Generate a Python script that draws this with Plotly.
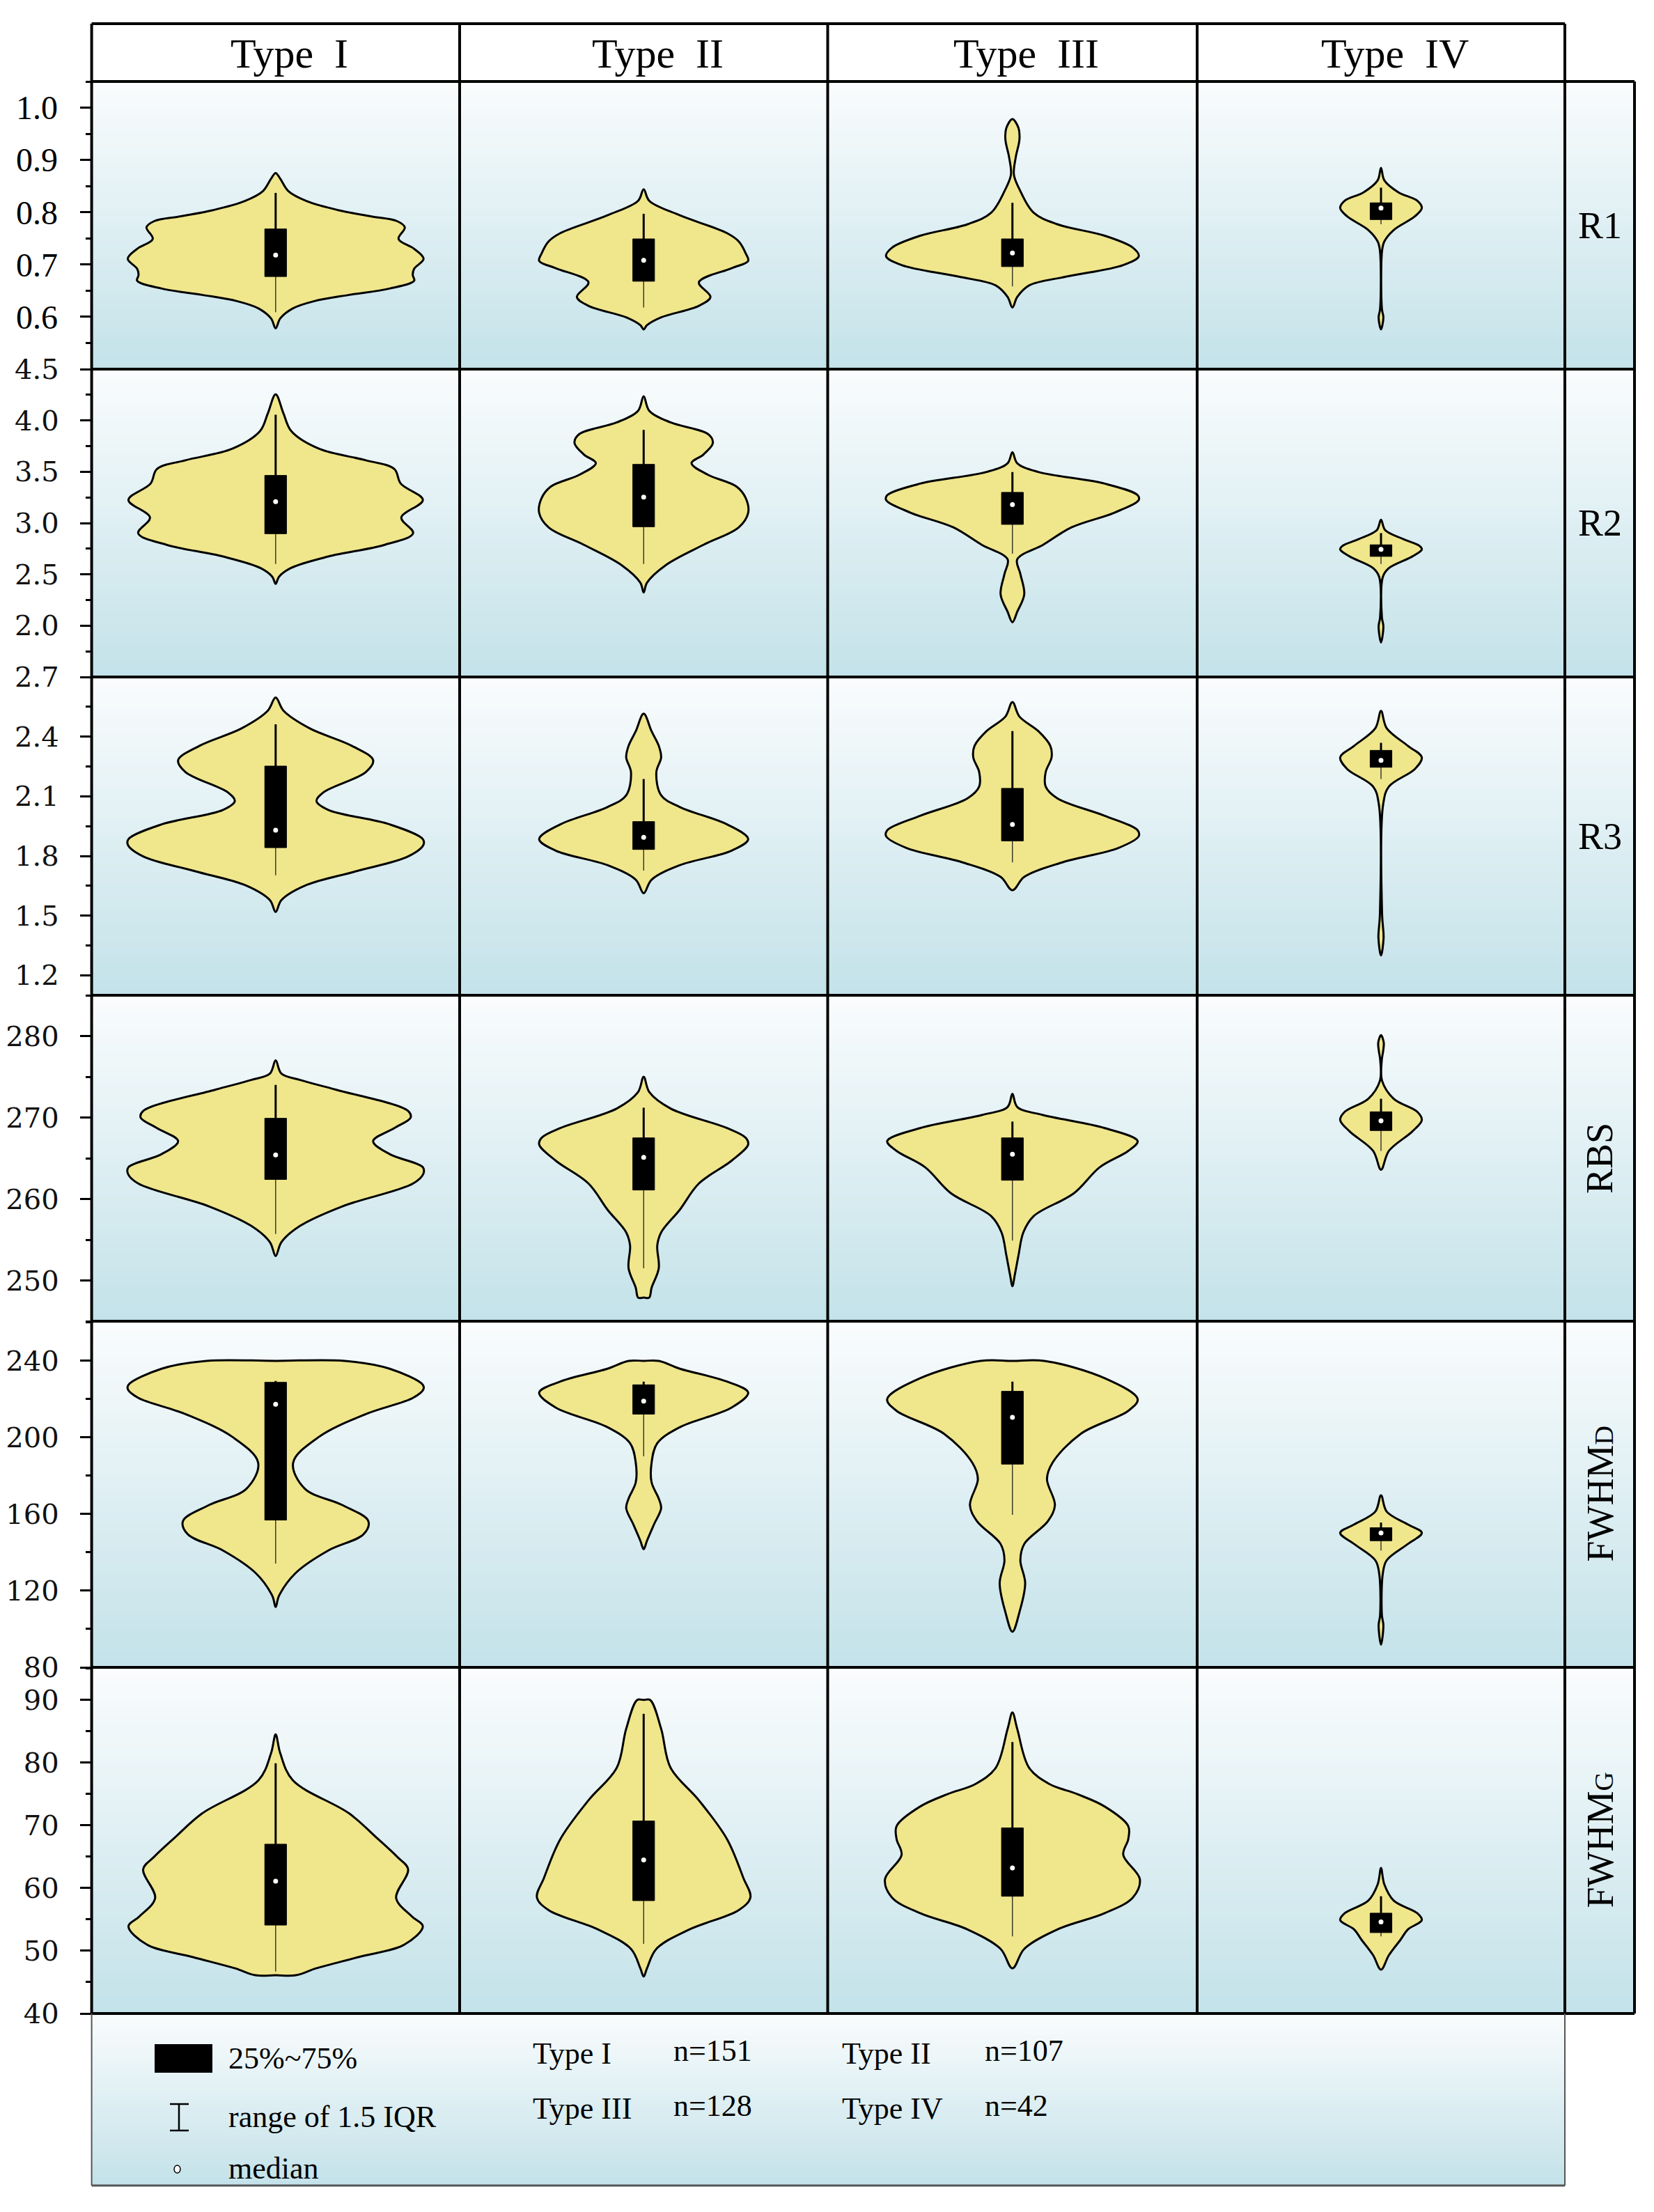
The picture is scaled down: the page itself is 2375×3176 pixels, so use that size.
import plotly.graph_objects as go

# ---- data ----
TYPES = ["Type  I", "Type  II", "Type  III", "Type  IV"]
LEGEND_TYPES = ["Type I", "Type II", "Type III", "Type IV"]
N_SAMPLES = [151, 107, 128, 42]
PARAMS = ["R1", "R2", "R3", "RBS",
          "FWHM<span style='font-size:38px'>D</span>",
          "FWHM<span style='font-size:38px'>G</span>"]

Y_RANGES = [[0.5, 1.05], [1.5, 4.5], [1.1, 2.7], [245, 285], [80, 260.7], [40, 95.2]]
TICK_LABELS = [
    ["0.6", "0.7", "0.8", "0.9", "1.0"],
    ["2.0", "2.5", "3.0", "3.5", "4.0", "4.5"],
    ["1.2", "1.5", "1.8", "2.1", "2.4", "2.7"],
    ["250", "260", "270", "280"],
    ["80", "120", "160", "200", "240"],
    ["40", "50", "60", "70", "80", "90"],
]

# violin outlines: heights (top -> bottom) and half widths (fraction of half column)
R1_Y = [
    [0.875, 0.864, 0.840, 0.821, 0.804, 0.792, 0.783, 0.771, 0.749, 0.730, 0.711, 0.692, 0.680, 0.669, 0.654, 0.642, 0.630, 0.616, 0.597, 0.578],
    [0.844, 0.822, 0.794, 0.760, 0.744, 0.721, 0.707, 0.693, 0.666, 0.638, 0.621, 0.599, 0.584, 0.576],
    [0.978, 0.961, 0.939, 0.905, 0.872, 0.844, 0.799, 0.777, 0.755, 0.732, 0.716, 0.699, 0.677, 0.660, 0.638, 0.618],
    [0.885, 0.861, 0.838, 0.822, 0.808, 0.792, 0.766, 0.744, 0.727, 0.615, 0.599, 0.576],
]
R1_W = [
    [0, .025, .07, .17, .34, .52, .66, .702, .668, .753, .804, .753, .745, .753, .618, .40, .21, .093, .025, 0],
    [0, .03, .197, .453, .517, .555, .568, .478, .30, .363, .30, .095, .018, 0],
    [0, .033, .038, .018, .008, .038, .115, .243, .50, .653, .684, .60, .294, .09, .026, 0],
    [0, .018, .095, .197, .222, .184, .069, .018, .006, .005, .013, 0],
]
R1_BOX = [[0.609, 0.677, 0.718, 0.768, 0.837], [0.618, 0.668, 0.708, 0.749, 0.797],
          [0.658, 0.696, 0.722, 0.749, 0.818], [0.777, 0.786, 0.808, 0.818, 0.847]]

R2_Y = [
    [4.254, 4.066, 3.896, 3.725, 3.612, 3.527, 3.384, 3.225, 3.054, 2.901, 2.788, 2.674, 2.561, 2.476, 2.407],
    [4.236, 4.095, 3.981, 3.867, 3.782, 3.668, 3.583, 3.470, 3.356, 3.242, 3.100, 2.958, 2.788, 2.590, 2.419, 2.323],
    [3.691, 3.583, 3.498, 3.384, 3.271, 3.225, 3.100, 2.958, 2.788, 2.646, 2.504, 2.305, 2.135, 2.033],
    [3.032, 2.930, 2.845, 2.777, 2.743, 2.675, 2.561, 2.476, 2.079, 1.994, 1.835],
]
R2_W = [
    [0, .043, .085, .235, .49, .645, .68, .80, .683, .747, .593, .286, .082, .018, 0],
    [0, .03, .146, .35, .376, .325, .26, .35, .504, .555, .568, .517, .325, .12, .018, 0],
    [0, .026, .14, .50, .678, .684, .55, .32, .166, .026, .043, .064, .026, 0],
    [0, .023, .12, .21, .222, .171, .043, .01, .005, .013, 0],
]
R2_BOX = [[2.601, 2.896, 3.208, 3.464, 4.055], [2.601, 2.964, 3.253, 3.572, 3.907],
          [2.702, 2.987, 3.180, 3.299, 3.498], [2.601, 2.675, 2.743, 2.788, 2.902]]

R3_Y = [
    [2.597, 2.530, 2.442, 2.354, 2.281, 2.222, 2.120, 2.076, 2.032, 1.959, 1.885, 1.856, 1.798, 1.724, 1.651, 1.578, 1.519],
    [2.515, 2.427, 2.354, 2.296, 2.222, 2.105, 2.046, 1.959, 1.885, 1.827, 1.754, 1.681, 1.613],
    [2.574, 2.501, 2.428, 2.354, 2.296, 2.222, 2.149, 2.090, 2.002, 1.929, 1.900, 1.841, 1.768, 1.695, 1.628],
    [2.529, 2.442, 2.354, 2.296, 2.237, 2.149, 2.061, 1.505, 1.388, 1.300],
]
R3_W = [
    [0, .043, .184, .414, .53, .49, .26, .222, .286, .62, .80, .803, .72, .44, .159, .031, 0],
    [0, .043, .082, .095, .069, .095, .197, .453, .568, .478, .197, .043, 0],
    [0, .038, .14, .205, .212, .18, .18, .243, .50, .678, .684, .575, .27, .064, 0],
    [0, .031, .146, .222, .184, .043, .012, .006, .014, 0],
]
R3_BOX = [[1.703, 1.842, 1.930, 2.252, 2.462], [1.727, 1.833, 1.894, 1.973, 2.187],
          [1.768, 1.876, 1.959, 2.140, 2.428], [2.187, 2.246, 2.281, 2.331, 2.369]]

RBS_Y = [
    [277.0, 275.4, 274.6, 273.4, 270.8, 270.0, 268.7, 267.1, 265.5, 263.9, 263.1, 261.9, 259.1, 256.7, 254.7, 253.0],
    [275.0, 273.1, 271.1, 268.7, 267.5, 266.7, 264.7, 261.9, 258.7, 255.9, 254.3, 251.5, 249.1, 247.9],
    [272.9, 271.3, 270.3, 268.7, 267.1, 265.9, 263.9, 260.7, 257.9, 255.9, 253.1, 250.7, 249.3],
    [280.1, 279.2, 278.2, 277.0, 274.5, 272.3, 270.7, 269.7, 268.3, 265.9, 263.6],
]
RBS_W = [
    [0, .031, .133, .33, .72, .734, .645, .53, .62, .80, .803, .747, .363, .133, .031, 0],
    [0, .031, .146, .453, .555, .568, .478, .30, .197, .095, .074, .082, .043, .03],
    [0, .026, .166, .50, .678, .627, .473, .333, .115, .059, .033, .013, 0],
    [0, .015, .012, .004, .006, .069, .197, .222, .171, .043, 0],
]
RBS_BOX = [[255.7, 262.4, 265.4, 269.9, 274.0], [251.5, 261.1, 265.1, 267.5, 271.2],
           [254.9, 262.3, 265.5, 267.5, 269.5], [265.9, 268.4, 269.6, 270.7, 272.3]]

FWHMD_Y = [
    [240.0, 235.9, 227.5, 225.1, 220.7, 212.2, 200.3, 186.8, 173.2, 164.7, 156.3, 149.5, 141.0, 129.1, 117.3, 111.5],
    [240.0, 235.9, 229.2, 223.4, 215.6, 205.4, 197.0, 186.8, 176.6, 168.1, 163.1, 154.6, 146.1, 141.7],
    [240.0, 230.9, 220.0, 213.9, 202.0, 186.8, 178.3, 164.7, 156.3, 144.4, 135.9, 124.0, 108.8, 98.6],
    [169.8, 161.3, 154.6, 150.2, 144.4, 135.9, 129.1, 107.1, 102.0, 91.8],
]
FWHMD_W = [
    [.376, .62, .80, .803, .747, .49, .235, .095, .159, .363, .504, .478, .286, .107, .018, 0],
    [.082, .197, .453, .568, .478, .197, .074, .043, .043, .082, .095, .056, .018, 0],
    [.173, .50, .678, .627, .371, .217, .187, .23, .192, .064, .043, .069, .038, 0],
    [0, .031, .146, .222, .146, .031, .01, .005, .013, 0],
]
FWHMD_BOX = [[134.2, 156.9, 217.3, 228.8, 229.5], [190.2, 212.2, 219.0, 227.5, 229.2],
             [159.6, 186.1, 210.5, 224.1, 229.2], [141.0, 146.1, 150.2, 152.9, 155.6]]

FWHMG_Y = [
    [84.5, 81.5, 77.2, 71.9, 68.0, 65.0, 63.0, 58.4, 55.5, 53.9, 51.0, 49.0, 47.2, 46.1],
    [90.0, 85.4, 79.2, 74.0, 67.8, 61.6, 58.5, 56.5, 53.4, 50.3, 47.2, 45.9],
    [88.0, 85.4, 79.2, 76.6, 75.0, 73.0, 69.9, 67.8, 65.3, 61.4, 58.5, 56.0, 53.4, 50.3, 47.2],
    [63.2, 60.6, 58.0, 56.0, 54.9, 53.4, 51.8, 49.3, 47.0],
]
FWHMG_W = [
    [0, .025, .093, .40, .55, .66, .72, .655, .74, .80, .70, .45, .22, .11],
    [.035, .095, .146, .30, .453, .542, .58, .517, .248, .069, .018, 0],
    [0, .026, .09, .20, .35, .50, .627, .627, .60, .69, .652, .50, .243, .064, 0],
    [0, .018, .069, .197, .222, .146, .107, .043, 0],
]
FWHMG_BOX = [[46.7, 54.1, 61.1, 67.0, 79.9], [51.1, 58.0, 64.5, 70.7, 87.8],
             [52.3, 58.7, 63.2, 69.6, 83.3], [52.3, 52.9, 54.6, 56.0, 58.7]]

SHAPE_Y = [R1_Y, R2_Y, R3_Y, RBS_Y, FWHMD_Y, FWHMG_Y]
SHAPE_W = [R1_W, R2_W, R3_W, RBS_W, FWHMD_W, FWHMG_W]
BOXES = [R1_BOX, R2_BOX, R3_BOX, RBS_BOX, FWHMD_BOX, FWHMG_BOX]

# ---- page geometry (pixels on the page) ----
W, H = 2375, 3176
PAGE_OFFSET = 8  # body margin of the html page
COL_X = [131.6, 660, 1188.5, 1719, 2247]
LABEL_RIGHT = 2347
HEADER_TOP = 34
ROW_Y = [117, 530, 972, 1429, 1897, 2394, 2891]
LEGEND_BOTTOM = 3138

FILL = "#F0E68C"
FONT = "Liberation Serif"
BOX_HALF = 0.059
TOP_RGB = (250, 252, 253)
BOT_RGB = (195, 226, 233)


def px(x):
    return (x - PAGE_OFFSET) / W


def py(y):
    return 1 - (y - PAGE_OFFSET) / H


def mix(t):
    return "rgb(%d,%d,%d)" % tuple(round(a + (b - a) * t) for a, b in zip(TOP_RGB, BOT_RGB))


shapes = []
annotations = []


def gradient(x0, x1, y0, y1, n=60):
    step = (y1 - y0) / n
    for i in range(n):
        shapes.append(dict(type="rect", xref="paper", yref="paper", layer="below",
                           x0=px(x0), x1=px(x1), y0=py(y0 + step * (i + 1) + 0.8),
                           y1=py(y0 + step * i), fillcolor=mix((i + 0.5) / n),
                           line=dict(width=0)))


def hline(y, x0, x1, width=4, color="black"):
    shapes.append(dict(type="line", xref="paper", yref="paper", x0=px(x0), x1=px(x1),
                       y0=py(y), y1=py(y), line=dict(color=color, width=width)))


def vline(x, y0, y1, width=4, color="black"):
    shapes.append(dict(type="line", xref="paper", yref="paper", x0=px(x), x1=px(x),
                       y0=py(y0), y1=py(y1), line=dict(color=color, width=width)))


def label(text, x, y, size, xanchor="center", angle=0):
    annotations.append(dict(text=text, xref="paper", yref="paper", x=px(x), y=py(y),
                            xanchor=xanchor, yanchor="middle", showarrow=False, textangle=angle,
                            font=dict(family=FONT, size=size, color="black")))


# backgrounds
for r in range(6):
    gradient(COL_X[0], LABEL_RIGHT, ROW_Y[r], ROW_Y[r + 1])
gradient(COL_X[0], COL_X[-1], ROW_Y[-1], LEGEND_BOTTOM, 40)

fig = go.Figure()
layout_axes = {}

for r in range(6):
    labels = TICK_LABELS[r]
    vals = [float(t) for t in labels]
    half = (vals[1] - vals[0]) / 2
    lo, hi = Y_RANGES[r]
    minor = [v + half for v in vals[:-1]]
    if vals[0] - half >= lo - 1e-9:
        minor.insert(0, vals[0] - half)
    if vals[-1] + half <= hi + 1e-9:
        minor.append(vals[-1] + half)
    tick_font = dict(family=FONT, size=48, color="black") if r == 0 else \
        dict(family="DejaVu Serif", size=40, color="#111111")
    for c in range(4):
        n = r * 4 + c + 1
        sfx = "" if n == 1 else str(n)
        layout_axes["xaxis" + sfx] = dict(domain=[px(COL_X[c]), px(COL_X[c + 1])], range=[-1, 1],
                                          visible=False, anchor="y" + sfx, fixedrange=True,
                                          automargin=False)
        yax = dict(domain=[py(ROW_Y[r + 1]), py(ROW_Y[r])], range=Y_RANGES[r], anchor="x" + sfx,
                   showgrid=False, zeroline=False, showline=False, fixedrange=True,
                   automargin=False)
        if c == 0:
            yax.update(tickmode="array", tickvals=vals, ticktext=labels, ticks="outside",
                       ticklen=16, tickwidth=3, tickcolor="black", ticklabelstandoff=22,
                       tickfont=tick_font,
                       minor=dict(tickmode="array", tickvals=minor, ticks="outside",
                                  ticklen=8, tickwidth=3, tickcolor="black"))
        else:
            yax.update(showticklabels=False, ticks="")
        layout_axes["yaxis" + sfx] = yax

        xa, ya = "x" + sfx, "y" + sfx
        ys, ws = SHAPE_Y[r][c], SHAPE_W[r][c]
        right = [(w, y) for w, y in zip(ws, ys)]
        left = [(-w, y) for w, y in zip(ws, ys)][::-1]
        if ws[-1] == 0:
            left = left[1:]
        else:
            right.append((0, ys[-1]))  # flat cut at the bottom
        if ws[0] == 0:
            left = left[:-1]
        else:
            left.append((0, ys[0]))  # flat cut at the top
        pts = right + left + [right[0]]
        fig.add_trace(go.Scatter(x=[p[0] for p in pts], y=[p[1] for p in pts], mode="lines",
                                 xaxis=xa, yaxis=ya, fill="toself", fillcolor=FILL,
                                 line=dict(color="black", width=3, shape="spline", smoothing=1),
                                 hoverinfo="skip", showlegend=False))

        wlo, q1, med, q3, whi = BOXES[r][c]
        fig.add_trace(go.Scatter(x=[0, 0], y=[wlo, q1], mode="lines", xaxis=xa, yaxis=ya,
                                 line=dict(color="#222222", width=1.3), showlegend=False))
        fig.add_trace(go.Scatter(x=[0, 0], y=[q3, whi], mode="lines", xaxis=xa, yaxis=ya,
                                 line=dict(color="black", width=3), showlegend=False))
        fig.add_trace(go.Scatter(x=[-BOX_HALF, BOX_HALF, BOX_HALF, -BOX_HALF, -BOX_HALF],
                                 y=[q1, q1, q3, q3, q1], mode="lines", xaxis=xa, yaxis=ya,
                                 fill="toself", fillcolor="black",
                                 line=dict(color="black", width=1), showlegend=False))
        fig.add_trace(go.Scatter(x=[0], y=[med], mode="markers", xaxis=xa, yaxis=ya,
                                 marker=dict(color="white", size=7, line=dict(width=0)),
                                 showlegend=False))

    # row label on the right
    label(PARAMS[r], (COL_X[-1] + LABEL_RIGHT) / 2, (ROW_Y[r] + ROW_Y[r + 1]) / 2, 54,
          angle=0 if r < 3 else -90)

# column headers
for c in range(4):
    label(TYPES[c], (COL_X[c] + COL_X[c + 1]) / 2 + 20, (HEADER_TOP + ROW_Y[0]) / 2 + 2, 60)

# frame
hline(HEADER_TOP, COL_X[0], COL_X[-1])
for y in ROW_Y:
    hline(y, COL_X[0], LABEL_RIGHT)
for x in COL_X:
    vline(x, HEADER_TOP, ROW_Y[-1])
vline(LABEL_RIGHT, ROW_Y[0], ROW_Y[-1])

# legend box
vline(COL_X[0], ROW_Y[-1], LEGEND_BOTTOM, width=2, color="#555555")
vline(COL_X[-1], ROW_Y[-1], LEGEND_BOTTOM, width=2, color="#555555")
hline(LEGEND_BOTTOM, COL_X[0], COL_X[-1], width=3, color="#555555")

shapes.append(dict(type="rect", xref="paper", yref="paper", x0=px(222), x1=px(305),
                   y0=py(2976), y1=py(2935), fillcolor="black", line=dict(width=0)))
vline(257, 3021, 3059, width=2.5)
hline(3021, 244, 271, width=2.5)
hline(3059, 244, 271, width=2.5)
shapes.append(dict(type="circle", xref="paper", yref="paper", x0=px(250), x1=px(259),
                   y0=py(3120), y1=py(3109), fillcolor="white", line=dict(color="black", width=1.5)))

for text, y in [("25%~75%", 2955), ("range of 1.5 IQR", 3039), ("median", 3113)]:
    label(text, 326, y, 44, xanchor="left")
for i in range(4):
    lx = 763 if i % 2 == 0 else 1207
    nx = 965 if i % 2 == 0 else 1412
    ly = 2948 if i < 2 else 3027
    label(LEGEND_TYPES[i], lx, ly, 44, xanchor="left")
    label("n=%d" % N_SAMPLES[i], nx, ly - 4, 44, xanchor="left")

fig.update_layout(width=W, height=H, margin=dict(l=0, r=0, t=0, b=0),
                  paper_bgcolor="white", plot_bgcolor="rgba(0,0,0,0)",
                  showlegend=False, shapes=shapes, annotations=annotations, **layout_axes)

fig.write_html("out.html")
